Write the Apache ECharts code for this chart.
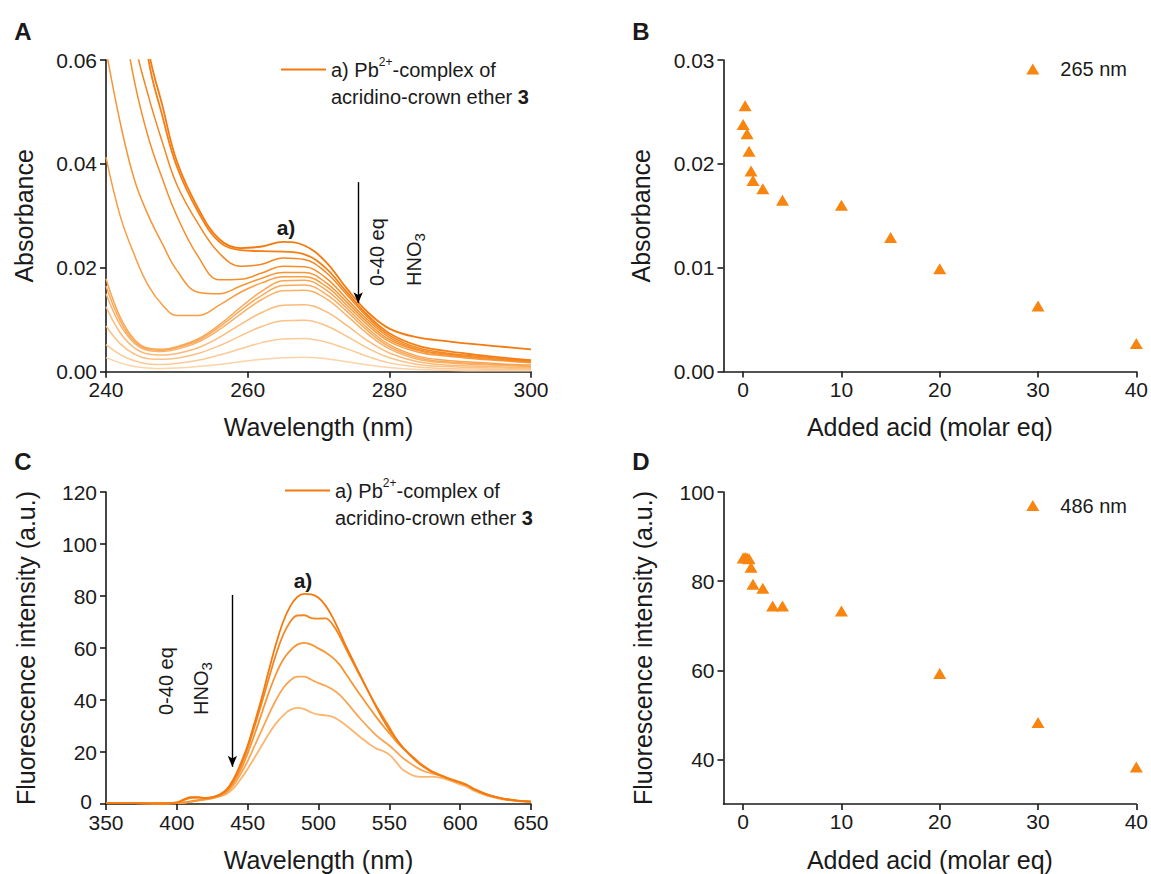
<!DOCTYPE html>
<html>
<head>
<meta charset="utf-8">
<script src="https://cdn.jsdelivr.net/npm/echarts@6/dist/echarts.min.js"></script>
<style>html,body{margin:0;padding:0;background:#fff}#chart{width:1151px;height:874px}</style>
</head>
<body>
<div id="chart"></div>
<script>
// ---------- DATA ----------
// Panel A: UV-Vis absorbance spectra (wavelength in nm)
const wlA = [240,242,244,246,248,250,253,256,259,262,265,268,271,274,277,280,284,288,292,296,300];
const absCurve01 = [0.200,0.130,0.085,0.062,0.051,0.0405,0.0315,0.0255,0.0238,0.0241,0.0250,0.0243,0.0212,0.0160,0.0114,0.0083,0.0066,0.0059,0.0053,0.0048,0.0043];
const absCurve02 = [0.190,0.125,0.082,0.060,0.049,0.0395,0.0308,0.0250,0.0234,0.0232,0.0231,0.0226,0.0200,0.0153,0.0108,0.0074,0.0050,0.0040,0.0033,0.0027,0.0022];
const absCurve03 = [0.120,0.085,0.064,0.053,0.044,0.0360,0.0285,0.0228,0.0203,0.0207,0.0219,0.0216,0.0192,0.0148,0.0104,0.0070,0.0046,0.0036,0.0030,0.0025,0.0020];
const absCurve04 = [0.095,0.072,0.056,0.045,0.037,0.0300,0.0222,0.0177,0.0178,0.0190,0.0203,0.0202,0.0181,0.0140,0.0099,0.0066,0.0043,0.0034,0.0028,0.0023,0.0019];
const absCurve05 = [0.062,0.048,0.037,0.030,0.0245,0.0195,0.0153,0.0150,0.0165,0.0180,0.0191,0.0191,0.0172,0.0134,0.0094,0.0062,0.0041,0.0032,0.0027,0.0022,0.0018];
const absCurve06 = [0.0413,0.0300,0.0225,0.0165,0.0128,0.0108,0.0108,0.0128,0.0153,0.0171,0.0183,0.0183,0.0165,0.0128,0.0089,0.0058,0.0038,0.0030,0.0025,0.0021,0.0017];
const absCurve07 = [0.0179,0.0105,0.0062,0.0045,0.0043,0.0048,0.0063,0.0090,0.0124,0.0155,0.0175,0.0176,0.0158,0.0122,0.0083,0.0052,0.0030,0.0022,0.0018,0.0015,0.0013];
const absCurve08 = [0.0165,0.0098,0.0058,0.0043,0.0041,0.0046,0.0060,0.0086,0.0118,0.0147,0.0166,0.0167,0.0150,0.0116,0.0078,0.0048,0.0027,0.0019,0.0016,0.0013,0.0011];
const absCurve09 = [0.0150,0.0090,0.0055,0.0041,0.0039,0.0043,0.0057,0.0081,0.0111,0.0139,0.0156,0.0157,0.0141,0.0108,0.0072,0.0044,0.0024,0.0017,0.0014,0.0012,0.0010];
const absCurve10 = [0.0125,0.0075,0.0046,0.0034,0.0032,0.0035,0.0046,0.0066,0.0091,0.0114,0.0128,0.0129,0.0116,0.0089,0.0059,0.0036,0.0019,0.0013,0.0011,0.0009,0.0008];
const absCurve11 = [0.0088,0.0054,0.0034,0.0025,0.0024,0.0026,0.0035,0.0050,0.0069,0.0087,0.0098,0.0099,0.0089,0.0068,0.0045,0.0027,0.0014,0.0010,0.0008,0.0007,0.0006];
const absCurve12 = [0.0052,0.0033,0.0021,0.0015,0.0014,0.0016,0.0022,0.0032,0.0044,0.0056,0.0063,0.0064,0.0057,0.0044,0.0029,0.0017,0.0009,0.0006,0.0005,0.0004,0.0004];
const absCurve13 = [0.0027,0.0017,0.0010,0.0007,0.0006,0.0007,0.0010,0.0014,0.0019,0.0024,0.0027,0.0028,0.0025,0.0019,0.0013,0.0008,0.0004,0.0003,0.0002,0.0002,0.0002];

// Panel B: absorbance at 265 nm vs added acid
const acidB  = [0, 0.2, 0.4, 0.6, 0.8, 1, 2, 4, 10, 15, 20, 30, 40];
const abs265 = [0.0238, 0.0256, 0.0229, 0.0212, 0.0193, 0.0184, 0.0176, 0.0165, 0.0160, 0.0129, 0.0099, 0.0063, 0.0027];

// Panel C: fluorescence spectra
const wlC = [350,370,390,400,405,410,415,420,425,430,435,440,445,450,455,460,465,470,475,480,485,490,495,500,505,510,515,520,530,540,545,550,555,560,570,575,580,590,600,605,610,620,630,640,650];
const flCurve1 = [0.3,0.3,0.2,0.6,1.8,2.6,2.6,2.3,2.6,3.6,5.5,9.5,15.5,22.5,31.5,41,51.5,61.5,70,76,79.6,80.8,80.6,79.3,76.3,71.8,66,60,49,38,33,28.5,24.8,21.5,16,14,12.4,10,8.2,7.2,5.6,3.4,2.1,1.3,0.9];
const flCurve2 = [0.3,0.3,0.2,0.5,1.5,2.4,2.5,2.2,2.5,3.4,5.2,9,14.5,21.5,30,39,48.5,57.5,65,70,72.5,72.6,71.5,71.3,71.4,69,64.5,59,48.5,38.5,34,29.5,25,21.5,16.5,14.3,12.6,10.2,8.3,7.3,5.7,3.5,2.1,1.3,0.9];
const flCurve3 = [0.3,0.3,0.2,0.3,0.6,1.0,1.5,1.9,2.4,3.2,4.8,8.2,13,19.5,27,35,43,50,55.5,59,61.3,62,61.3,59.8,58.3,56.3,53.5,49.5,41.5,34,30.5,27.2,24,21.2,16.2,14.2,12.5,10.3,8.3,7.2,5.6,3.4,2.1,1.3,0.9];
const flCurve4 = [0.3,0.3,0.2,0.3,0.5,0.9,1.4,1.8,2.3,3.0,4.4,7.2,11.5,16.5,22.5,28.5,34.5,40,44.5,47.5,49,49,47.8,46.5,45.5,44,42,39,32.5,26.8,24.5,22.5,20,17.5,13.8,12.5,11.8,10.2,8,7,5.4,3.2,2,1.2,0.8];
const flCurve5 = [0.3,0.3,0.2,0.3,0.5,0.8,1.3,1.7,2.2,2.8,3.9,6,9.5,13.5,18,22.5,27,31,34,36.2,37,36.5,35.2,34.4,34.1,33.5,32,30,25.5,21.5,20.5,19,16,13,10.5,10.4,10.5,9.5,7.5,6.5,5,3,1.8,1.1,0.8];

// Panel D: fluorescence intensity at 486 nm vs added acid
const acidD = [0, 0.2, 0.4, 0.6, 0.8, 1, 2, 3, 4, 10, 20, 30, 40];
const fl486 = [85.2, 85.3, 85.2, 85.0, 83.1, 79.3, 78.4, 74.4, 74.4, 73.3, 59.3, 48.3, 38.3];

// Tick values
const acidTicks = [0, 10, 20, 30, 40];
const flTicksD  = [40, 60, 80, 100];

// ---------- STYLE ----------
const FONT = '"Liberation Sans", Arial, Helvetica, sans-serif';
const TXT = '#1a1a1a';
const absColors = ['#f47a0f','#f57f17','#f5861f','#f68d2a','#f79535','#f89d42','#f9a553','#f9ab5d','#fab168','#fbba78','#fbc287','#fcca97','#fdd3a8'];
const flColors = ['#f47a0f','#f5861f','#f79535','#f9a553','#fab670'];
const MARK = '#f7850f';
const NAME_A = 'a) Pb2+-complex of acridino-crown ether 3 (abs)';
const NAME_C = 'a) Pb2+-complex of acridino-crown ether 3 (fl)';
const LINE_ICON = 'path://M0,0 L45,0 L45,2 L0,2 Z';

const zip = (xs, ys) => xs.map((x, i) => [x, ys[i]]);

const labelBase = { fontSize: 21, color: TXT, fontFamily: FONT, margin: 9, lineHeight: 17 };
const tickBase = { show: true, inside: false, length: 6, lineStyle: { color: TXT, width: 1.6 } };

function axisBase(extra) {
  return Object.assign({
    type: 'value',
    nameLocation: 'middle',
    nameTextStyle: { fontSize: 25, color: TXT, fontFamily: FONT },
    axisLine: { show: true, onZero: false, lineStyle: { color: TXT, width: 1.6 } },
    axisTick: Object.assign({}, tickBase),
    axisLabel: Object.assign({}, labelBase),
    splitLine: { show: false }
  }, extra);
}

const legendRich = {
  n:   { fontSize: 20, fontFamily: FONT, color: TXT, lineHeight: 27 },
  sup: { fontSize: 12, fontFamily: FONT, color: TXT, lineHeight: 14, verticalAlign: 'top' },
  b:   { fontSize: 20, fontFamily: FONT, color: TXT, lineHeight: 27, fontWeight: 'bold' }
};
const legendText = '{n|a) Pb}{sup|2+}{n|-complex of}\n{n|acridino-crown ether }{b|3}';

const absSeries = [absCurve01,absCurve02,absCurve03,absCurve04,absCurve05,absCurve06,absCurve07,absCurve08,absCurve09,absCurve10,absCurve11,absCurve12,absCurve13];
const flSeries = [flCurve1,flCurve2,flCurve3,flCurve4,flCurve5];

const series = [];
// draw lighter curves first so the darkest lies on top
for (let i = absSeries.length - 1; i >= 0; i--) {
  const s = {
    name: i === 0 ? NAME_A : 'abs' + (i + 1),
    type: 'line', xAxisIndex: 0, yAxisIndex: 0,
    data: zip(wlA, absSeries[i]),
    symbol: 'none', smooth: 0.4, clip: true,
    lineStyle: { color: absColors[i], width: i < 2 ? 1.8 : 1.5 },
    itemStyle: { color: absColors[i] }
  };
  if (i === 0) {
    s.markLine = {
      silent: true, symbol: ['none', 'arrow'], symbolSize: [7, 11],
      label: { show: false },
      lineStyle: { color: '#000', width: 1.4, type: 'solid' },
      data: [[{ coord: [275.6, 0.0365] }, { coord: [275.6, 0.0132] }]]
    };
  }
  series.push(s);
}
series.push({
  name: '265 nm', type: 'scatter', xAxisIndex: 1, yAxisIndex: 1,
  data: zip(acidB, abs265), symbol: 'triangle', symbolSize: [13, 11],
  itemStyle: { color: MARK, opacity: 1 }
});
for (let i = flSeries.length - 1; i >= 0; i--) {
  const s = {
    name: i === 0 ? NAME_C : 'fl' + (i + 1),
    type: 'line', xAxisIndex: 2, yAxisIndex: 2,
    data: zip(wlC, flSeries[i]),
    symbol: 'none', smooth: 0.4, clip: true,
    lineStyle: { color: flColors[i], width: 1.8 },
    itemStyle: { color: flColors[i] }
  };
  if (i === 0) {
    s.markLine = {
      silent: true, symbol: ['none', 'arrow'], symbolSize: [7, 11],
      label: { show: false },
      lineStyle: { color: '#000', width: 1.4, type: 'solid' },
      data: [[{ coord: [439.2, 80.4] }, { coord: [439.2, 14.3] }]]
    };
  }
  series.push(s);
}
series.push({
  name: '486 nm', type: 'scatter', xAxisIndex: 3, yAxisIndex: 3,
  data: zip(acidD, fl486), symbol: 'triangle', symbolSize: [13, 11],
  itemStyle: { color: MARK, opacity: 1 }
});

function txt(x, y, text, opts) {
  const o = opts || {};
  return {
    type: 'text', x: x, y: y, rotation: o.rotation || 0, z: 100,
    style: Object.assign({
      text: text, fill: TXT, fontFamily: FONT, fontSize: o.fontSize || 21,
      fontWeight: o.fontWeight || 'normal',
      align: o.align || 'center', verticalAlign: o.verticalAlign || 'middle',
      textAlign: o.align || 'center', textVerticalAlign: o.verticalAlign || 'middle'
    }, o.rich ? { rich: o.rich } : {})
  };
}
const hnoRich = {
  n: { fontSize: 20, fontFamily: FONT, color: TXT, lineHeight: 26 },
  s: { fontSize: 15, fontFamily: FONT, color: TXT, lineHeight: 10, verticalAlign: 'bottom' }
};
const letterOpts = { fontWeight: 'bold', fontSize: 24 };

const option = {
  animation: false,
  backgroundColor: '#ffffff',
  textStyle: { fontFamily: FONT },
  grid: [
    { left: 106, top: 60, width: 425, height: 311.7 },
    { left: 723.5, top: 60, width: 416.5, height: 311.5 },
    { left: 106, top: 492, width: 425, height: 312 },
    { left: 723.5, top: 492, width: 416.5, height: 312 }
  ],
  xAxis: [
    axisBase({ gridIndex: 0, min: 240, max: 300, interval: 20, name: 'Wavelength (nm)', nameGap: 43 }),
    axisBase({ gridIndex: 1, min: -2, max: 40, name: 'Added acid (molar eq)', nameGap: 43,
      axisTick: Object.assign({}, tickBase, { customValues: acidTicks }),
      axisLabel: Object.assign({}, labelBase, { customValues: acidTicks }) }),
    axisBase({ gridIndex: 2, min: 350, max: 650, interval: 50, name: 'Wavelength (nm)', nameGap: 43,
      axisLabel: Object.assign({}, labelBase, { margin: 10 }) }),
    axisBase({ gridIndex: 3, min: -2, max: 40, name: 'Added acid (molar eq)', nameGap: 43,
      axisTick: Object.assign({}, tickBase, { customValues: acidTicks }),
      axisLabel: Object.assign({}, labelBase, { customValues: acidTicks }) })
  ],
  yAxis: [
    axisBase({ gridIndex: 0, min: 0, max: 0.06, interval: 0.02, name: 'Absorbance', nameGap: 70,
      axisLabel: Object.assign({}, labelBase, { formatter: v => v.toFixed(2) }) }),
    axisBase({ gridIndex: 1, min: 0, max: 0.03, interval: 0.01, name: 'Absorbance', nameGap: 70,
      axisLabel: Object.assign({}, labelBase, { formatter: v => v.toFixed(2) }) }),
    axisBase({ gridIndex: 2, min: 0, max: 120, interval: 20, name: 'Fluorescence intensity (a.u.)', nameGap: 68,
      axisLabel: Object.assign({}, labelBase, {
        formatter: v => (v === 0 ? '{z|0}' : String(v)),
        rich: { z: { fontSize: 21, color: TXT, fontFamily: FONT, lineHeight: 17, padding: [0, 5, 6, 0] } }
      }) }),
    axisBase({ gridIndex: 3, min: 30, max: 100, name: 'Fluorescence intensity (a.u.)', nameGap: 68,
      axisTick: Object.assign({}, tickBase, { customValues: flTicksD }),
      axisLabel: Object.assign({}, labelBase, { customValues: flTicksD }) })
  ],
  legend: [
    { left: 281, top: 56, padding: 0, itemWidth: 45, itemHeight: 14, selectedMode: false,
      data: [{ name: NAME_A, icon: LINE_ICON }], formatter: () => legendText,
      textStyle: { padding: [27, 0, 0, 0], rich: legendRich } },
    { left: 1026.3, top: 59, padding: 0, itemWidth: 13, itemHeight: 11, selectedMode: false,
      data: [{ name: '265 nm', icon: 'triangle' }],
      textStyle: { fontSize: 20, color: TXT, fontFamily: FONT, padding: [0, 0, 0, 16] } },
    { left: 285, top: 477, padding: 0, itemWidth: 45, itemHeight: 14, selectedMode: false,
      data: [{ name: NAME_C, icon: LINE_ICON }], formatter: () => legendText,
      textStyle: { padding: [27, 0, 0, 0], rich: legendRich } },
    { left: 1026.3, top: 495.5, padding: 0, itemWidth: 13, itemHeight: 11, selectedMode: false,
      data: [{ name: '486 nm', icon: 'triangle' }],
      textStyle: { fontSize: 20, color: TXT, fontFamily: FONT, padding: [0, 0, 0, 16] } }
  ],
  graphic: [
    txt(23, 31, 'A', letterOpts),
    txt(641, 31, 'B', letterOpts),
    txt(23, 461, 'C', letterOpts),
    txt(641, 461, 'D', letterOpts),
    txt(286, 227, 'a)', { fontWeight: 'bold', fontSize: 21 }),
    txt(303, 580, 'a)', { fontWeight: 'bold', fontSize: 21 }),
    txt(377, 286, '0-40 eq', { rotation: Math.PI / 2, align: 'left', fontSize: 20 }),
    txt(414, 286, '{n|HNO}{s|3}', { rotation: Math.PI / 2, align: 'left', fontSize: 20, rich: hnoRich }),
    txt(165.5, 715, '0-40 eq', { rotation: Math.PI / 2, align: 'left', fontSize: 20 }),
    txt(201, 715, '{n|HNO}{s|3}', { rotation: Math.PI / 2, align: 'left', fontSize: 20, rich: hnoRich })
  ],
  series: series
};

const chart = echarts.init(document.getElementById('chart'), null, { renderer: 'svg', width: 1151, height: 874 });
chart.setOption(option);
</script>
</body>
</html>
